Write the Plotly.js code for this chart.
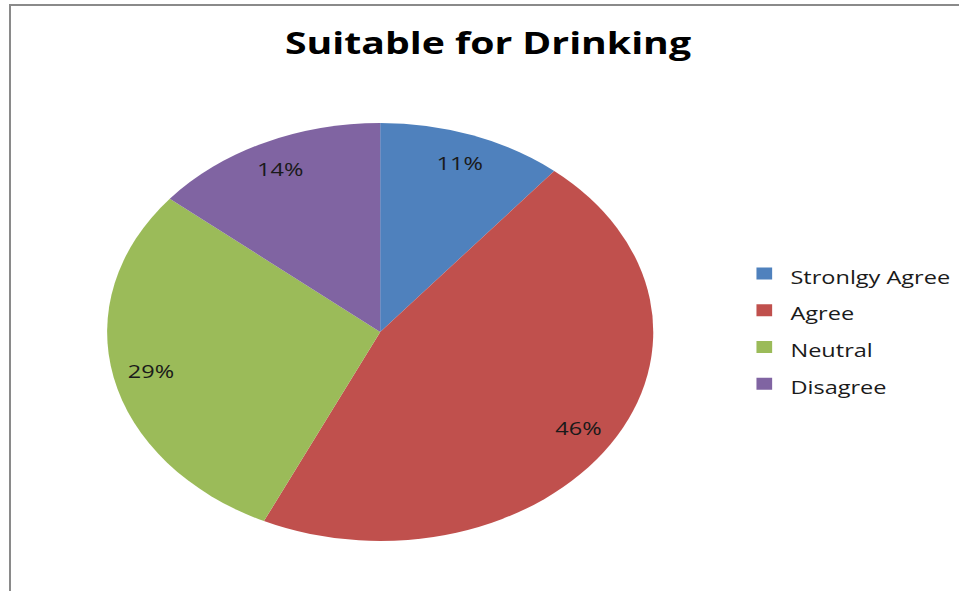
<!DOCTYPE html>
<html>
<head>
<meta charset="utf-8">
<script src="https://cdn.plot.ly/plotly-3.0.1.min.js"></script>
<style>
  html, body { margin: 0; padding: 0; background: #fff; }
  #wrap { position: relative; width: 959px; height: 591px; overflow: hidden; background: #fff; }
  #chart { position: absolute; left: 0; top: 0; width: 734px; height: 591px;
           transform: scale(1.3065, 1); transform-origin: 0 0; }
  #frame { position: absolute; left: 9px; top: 4px; right: -10px; bottom: -10px;
           border-left: 2px solid #8a8a8a; border-top: 2px solid #8a8a8a; pointer-events: none; }
</style>
</head>
<body>
<div id="wrap">
  <div id="chart"></div>
  <div id="frame"></div>
</div>
<script>
// ---- data ----
const categories = ['Stronlgy Agree', 'Agree', 'Neutral', 'Disagree'];
const percents = [11, 46, 29, 14];
const sliceColors = ['#4F81BD', '#C0504D', '#9BBB59', '#8064A2'];
const chartTitle = 'Suitable for Drinking';

// ---- styling constants ----
const LABEL_RADIUS = 0.86;   // label position as fraction of radius
const W = 734, H = 591;      // drawn narrow, then stretched horizontally by CSS

const legendLabels = categories.map(c => '<span style="font-size:18px">' + c + '</span>');

const data = [{
  type: 'pie',
  labels: legendLabels,
  values: percents,
  sort: false,
  direction: 'clockwise',
  rotation: 0,
  marker: { colors: sliceColors, line: { width: 0 } },
  textinfo: 'percent',
  textposition: 'inside',
  insidetextorientation: 'horizontal',
  textfont: { family: 'Open Sans', size: 18, color: '#1a1a1a' },
  hoverinfo: 'none',
  domain: { x: [82 / W, 500 / W], y: [50 / H, 468 / H] }
}];

const layout = {
  width: W,
  height: H,
  margin: { l: 0, r: 0, t: 0, b: 0 },
  paper_bgcolor: 'rgba(0,0,0,0)',
  plot_bgcolor: 'rgba(0,0,0,0)',
  showlegend: true,
  title: {
    text: '<b>' + chartTitle + '</b>',
    font: { family: 'Open Sans', size: 30, color: '#000000' },
    x: 373.5 / W, xanchor: 'center',
    y: 1 - 44 / H, yanchor: 'middle'
  },
  legend: {
    x: 565 / W, xanchor: 'left',
    y: 1 - 250 / H, yanchor: 'top',
    font: { family: 'Open Sans', size: 26, color: '#1a1a1a' },
    bgcolor: 'rgba(0,0,0,0)',
    borderwidth: 0
  }
};

const gd = document.getElementById('chart');
Plotly.newPlot(gd, data, layout, { staticPlot: true, displayModeBar: false }).then(function () {
  const cd = gd.calcdata[0];
  const cx = cd[0].cx, cy = cd[0].cy, r = cd[0].r;
  gd.querySelectorAll('.pielayer g.slice').forEach(function (g, i) {
    const pt = cd[i];
    const txt = g.querySelector('g.slicetext text');
    if (!txt || !pt) return;
    const m = Math.hypot(pt.pxmid[0], pt.pxmid[1]) || 1;
    const ux = pt.pxmid[0] / m, uy = pt.pxmid[1] / m;
    const X = cx + ux * LABEL_RADIUS * r;
    const Y = cy + uy * LABEL_RADIUS * r;
    txt.removeAttribute('transform');
    const bb = txt.getBBox();
    txt.setAttribute('transform', 'translate(' + (X - (bb.x + bb.width / 2)) + ',' + (Y - (bb.y + bb.height / 2)) + ')');
  });
});
</script>
</body>
</html>
